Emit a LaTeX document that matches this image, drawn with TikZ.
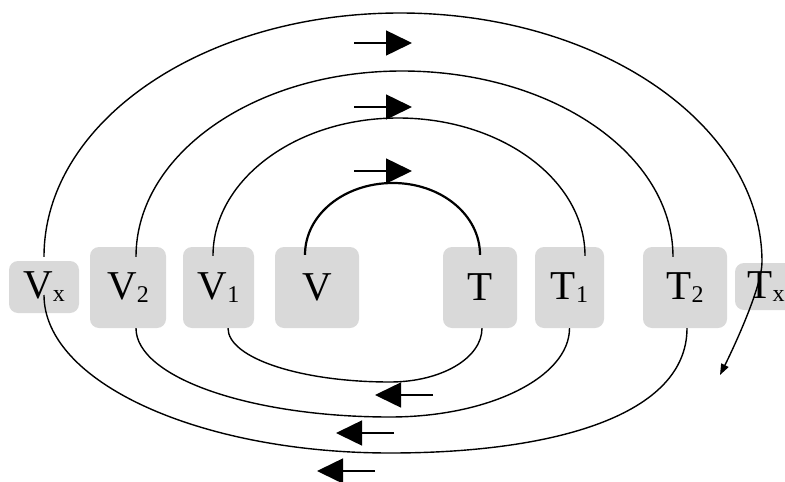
\documentclass[tikz,border=0pt]{standalone}
\usepackage{fontspec}
\setmainfont{Liberation Serif}
\usetikzlibrary{arrows.meta}

\definecolor{boxgray}{RGB}{217,217,217}
\newcommand{\sublbl}[2]{#1\raisebox{-3pt}{\fontsize{24}{24}\selectfont #2}}

\begin{document}
\begin{tikzpicture}[x=1pt,y=-1pt,
    station/.style={fill=boxgray, rounded corners=9pt, inner sep=0pt,
        minimum height=81pt, font=\fontsize{41}{41}\selectfont},
    track/.style={line width=1.4pt},
    dirarrow/.style={line width=1.5pt, -{Triangle[length=26pt,width=25pt]}}]
    \useasboundingbox (0,0) rectangle (785,482);
    % Draw the stations
    \node[station, minimum width=70pt, minimum height=52pt] (vx) at (44,287) {\sublbl{V}{x}};
    \node[station, minimum width=76pt] (v2) at (128,287.5) {\sublbl{V}{2}};
    \node[station, minimum width=71pt] (v1) at (218.5,287.5) {\sublbl{V}{1}};
    \node[station, minimum width=84pt] (v) at (317,287.5) {V};
    \node[station, minimum width=74pt] (t) at (480,287.5) {T};
    \node[station, minimum width=69pt] (t1) at (569.5,287.5) {\sublbl{T}{1}};
    \node[station, minimum width=84pt] (t2) at (685,287.5) {\sublbl{T}{2}};
    \node[station, minimum width=62pt, minimum height=47pt] (tx) at (766,286.5) {\sublbl{T}{x}};
    % Peaks of the loops
    \coordinate (top1) at (393,183);
    \coordinate (top2) at (398,118);
    \coordinate (top3) at (402,71);
    \coordinate (top4) at (400,13);
    \coordinate (bot1) at (390,382);
    \coordinate (bot2) at (390,417);
    \coordinate (bot3) at (390,453);
    \coordinate (turn) at (762,262);
    \coordinate (exit) at (720,375);
    % Draw the upper loops
    \draw[line width=2.2pt] ([shift={(-12,8)}]v.north) .. controls +(0,-40) and +(-49,0) .. (top1)
        .. controls +(48,0) and +(0,-40) .. ([shift={(0,8)}]t.north);
    \draw[track] ([shift={(-5.5,9)}]v1.north) .. controls +(0,-76) and +(-102,0) .. (top2)
        .. controls +(103,0) and +(0,-76) .. ([shift={(15.5,9)}]t1.north);
    \draw[track] ([shift={(8,10)}]v2.north) .. controls +(0,-103) and +(-147,0) .. (top3)
        .. controls +(150,0) and +(0,-103) .. ([shift={(-12,10)}]t2.north);
    \draw[track, -{Triangle[length=11pt,width=8pt]}] ([shift={(0,-4)}]vx.north)
        .. controls +(0,-135) and +(-197,0) .. (top4)
        .. controls +(200,0) and +(0,-137) .. (turn)
        .. controls +(0,25) and +(13.5,-27) .. (exit);
    % Draw the lower loops
    \draw[track] ([shift={(9.5,0)}]v1.south) .. controls +(0,30) and +(-89,0) .. (bot1)
        .. controls +(51,0) and +(0,30) .. ([shift={(2,0)}]t.south);
    \draw[track] ([shift={(8,0)}]v2.south) .. controls +(0,49) and +(-140,0) .. (bot2)
        .. controls +(99,0) and +(0,49) .. (t1.south);
    \draw[track] ([shift={(0,8)}]vx.center) .. controls +(0,87) and +(-191,0) .. (bot3)
        .. controls +(164,0) and +(0,87) .. ([shift={(2,0)}]t2.south);
    % Direction arrows
    \foreach \y in {43,107,171} {
            \draw[dirarrow] (354,\y) -- (412,\y);
        }
    \foreach \x/\y in {375/395,336/433,317/471} {
            \draw[dirarrow] (\x+58,\y) -- (\x,\y);
        }
\end{tikzpicture}
\end{document}
